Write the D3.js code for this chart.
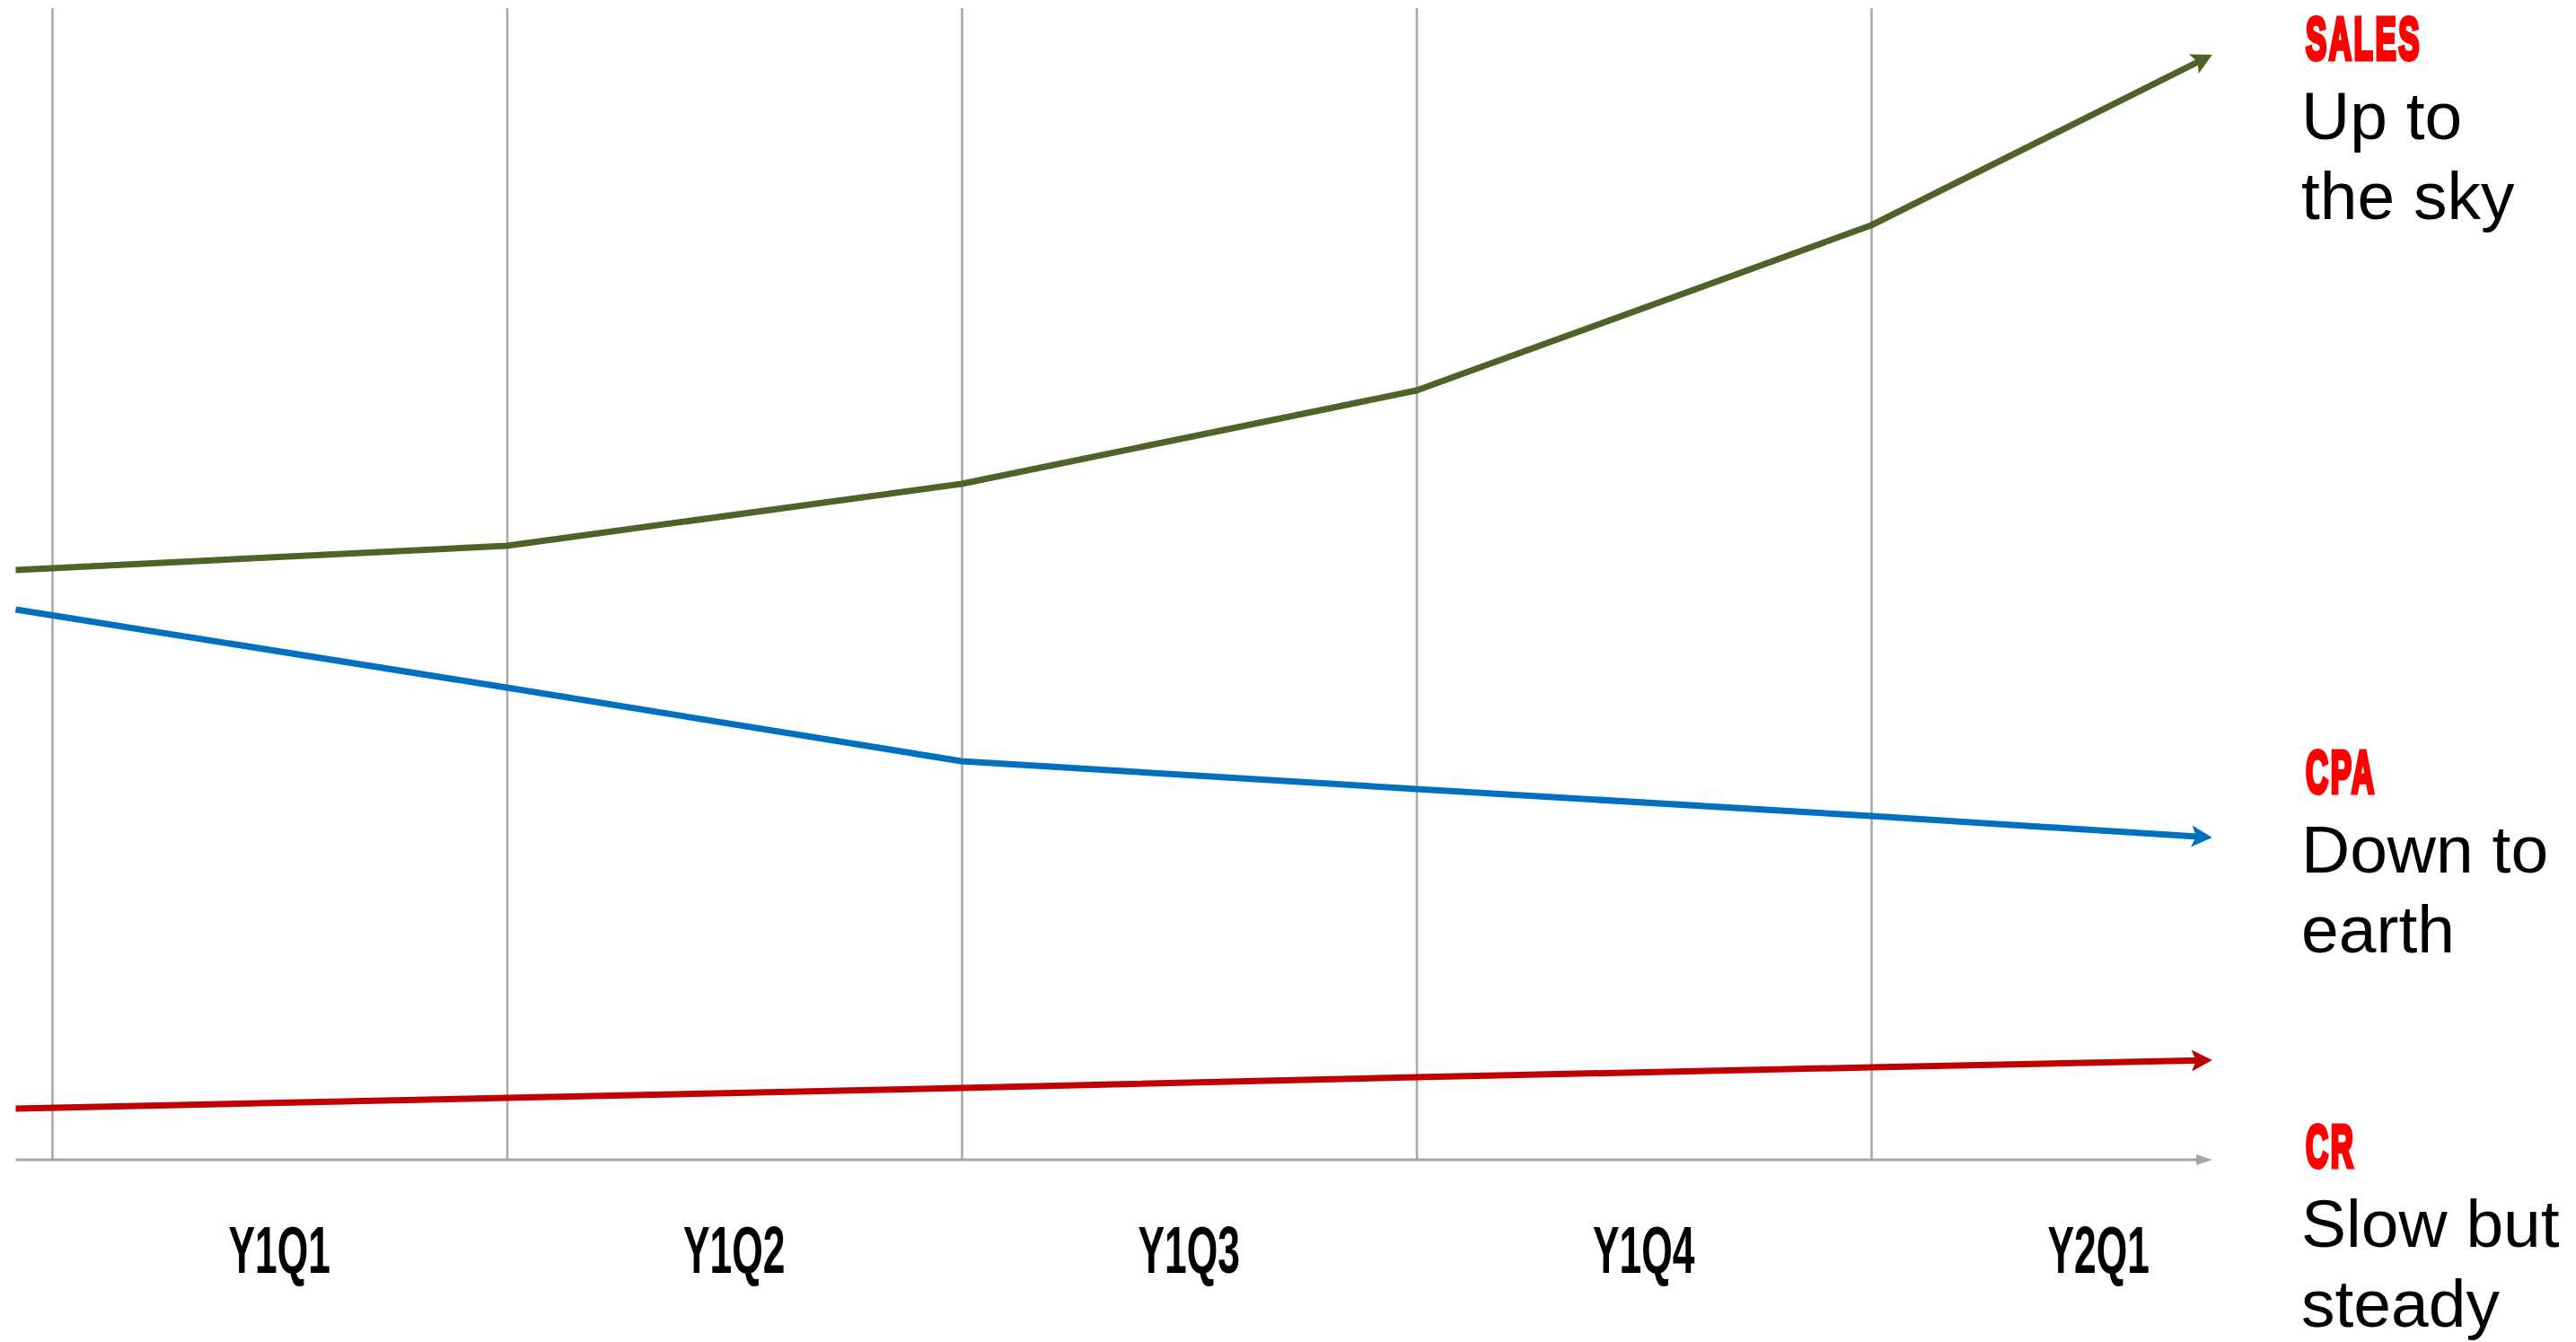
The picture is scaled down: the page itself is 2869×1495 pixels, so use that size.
<!DOCTYPE html>
<html>
<head>
<meta charset="utf-8">
<script src="https://cdn.jsdelivr.net/npm/d3@7"></script>
<style>
  body { margin: 0; background: #fff; }
  svg { display: block; }
</style>
</head>
<body>
<svg id="chart" width="2869" height="1495"></svg>
<script>
// quarters shown under the axis
const categories = ["Y1Q1", "Y1Q2", "Y1Q3", "Y1Q4", "Y2Q1"];
// where each line point sits, in quarter units (0 = first gridline)
const pointPos = [-0.08, 1, 2, 3, 4, 4.75];
// series values (arbitrary index)
const salesValues = [65.7, 68.4, 75.3, 85.7, 104.1, 123.1];
const cpaValues = [61.3, 52.6, 44.4, 41.3, 38.3, 35.9];
const crValues = [5.7, 6.9, 8.0, 9.2, 10.3, 11.1];
// side labels
const seriesNames = ["SALES", "CPA", "CR"];
const seriesNotes = [["Up to", "the sky"], ["Down to", "earth"], ["Slow but", "steady"]];

const width = 2869, height = 1495;
const axisY = 1292, topY = 9;
const grey = "#a6a6a6";
const colors = ["#4f6228", "#0070c0", "#c00000"];
const labelBaselines = [66, 883, 1300];

const svg = d3.select("#chart");

let x = d3.scaleLinear().domain([0, 5]).range([58, 2590.5]);
let y = d3.scaleLinear().domain([0, 128.3]).range([axisY, topY]);

// arrow heads
const defs = svg.append("defs");
colors.forEach((c, i) => {
    defs.append("marker")
        .attr("id", "arrow" + i)
        .attr("markerUnits", "userSpaceOnUse")
        .attr("viewBox", "0 0 24 24")
        .attr("markerWidth", 24).attr("markerHeight", 24)
        .attr("refX", 11).attr("refY", 12)
        .attr("orient", "auto")
        .append("path")
        .attr("d", "M0,0 L23,12 L0,24 L5,12 Z")
        .attr("fill", c);
});
defs.append("marker")
    .attr("id", "arrowAxis")
    .attr("markerUnits", "userSpaceOnUse")
    .attr("viewBox", "0 0 18 12")
    .attr("markerWidth", 18).attr("markerHeight", 12)
    .attr("refX", 8).attr("refY", 6)
    .attr("orient", "auto")
    .append("path")
    .attr("d", "M0,0 L18,6 L0,12 Z")
    .attr("fill", grey);

// vertical gridlines at quarter boundaries
let grid = g => g
    .attr("transform", `translate(0,${axisY})`)
    .call(d3.axisBottom(x).tickValues(d3.range(categories.length)).tickSize(-(axisY - topY)).tickFormat(""))
    .call(g => g.select(".domain").remove())
    .call(g => g.selectAll(".tick line").attr("stroke", grey).attr("stroke-width", 2.5));
svg.append("g").call(grid);

// horizontal axis with arrow, pulled back so the head ends on the last point
const axisStart = x(pointPos[0]), axisEnd = x(pointPos[pointPos.length - 1]);
svg.append("line")
    .attr("x1", axisStart).attr("x2", axisEnd - 10)
    .attr("y1", axisY).attr("y2", axisY)
    .attr("stroke", grey).attr("stroke-width", 3)
    .attr("marker-end", "url(#arrowAxis)");

// series lines
function shortenEnd(pts, by) {
    const n = pts.length;
    const [x0, y0] = pts[n - 2], [x1, y1] = pts[n - 1];
    const len = Math.hypot(x1 - x0, y1 - y0);
    const out = pts.slice(0, n - 1);
    out.push([x1 - (x1 - x0) * by / len, y1 - (y1 - y0) * by / len]);
    return out;
}
const line = d3.line();
[salesValues, cpaValues, crValues].forEach((vals, i) => {
    const pts = vals.map((v, j) => [x(pointPos[j]), y(v)]);
    svg.append("path")
        .attr("d", line(shortenEnd(pts, 12)))
        .attr("fill", "none")
        .attr("stroke", colors[i])
        .attr("stroke-width", 7)
        .attr("stroke-linejoin", "round")
        .attr("marker-end", `url(#arrow${i})`);
});

// condensed bold text (no condensed face installed, so squeeze a bold one)
function condensed(g, text, cx, cy, size, sx, sw, color, anchor) {
    const t = g.append("text")
        .attr("transform", `translate(${cx},${cy}) scale(${sx},1)`)
        .attr("text-anchor", anchor)
        .attr("font-family", "Liberation Sans, Arial, sans-serif")
        .attr("font-weight", "bold")
        .attr("font-size", size)
        .attr("fill", color)
        .text(text);
    if (sw > 0) {
        t.attr("letter-spacing", sw)
            .attr("stroke", color)
            .attr("stroke-width", sw)
            .attr("stroke-linejoin", "miter");
    }
}

const labels = svg.append("g");
categories.forEach((c, i) => {
    condensed(labels, c, x(i + 0.5), 1418, 74, 0.6, 0, "#000", "middle");
});

// right-hand notes
const notes = svg.append("g");
seriesNames.forEach((name, i) => {
    const b = labelBaselines[i];
    condensed(notes, name, 2568, b, 67, 0.52, 5, "#ff0000", "start");
    seriesNotes[i].forEach((t, k) => {
        notes.append("text")
            .attr("x", 2563)
            .attr("y", b + 89 * (k + 1))
            .attr("font-family", "Liberation Sans, Arial, sans-serif")
            .attr("font-size", 75)
            .attr("fill", "#000")
            .text(t);
    });
});
</script>
</body>
</html>
